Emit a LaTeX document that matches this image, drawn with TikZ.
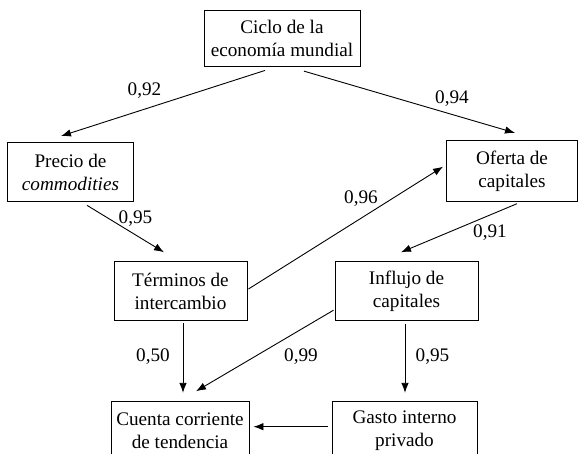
\documentclass[tikz,border=0pt]{standalone}
\usepackage{fontspec}
\setmainfont{Liberation Serif}
\usetikzlibrary{arrows.meta}

\begin{document}
\begin{tikzpicture}[x=1pt,y=1pt,line width=0.9pt,
  font=\fontsize{19.2}{23}\selectfont,
  caja/.style={rectangle,draw,align=center,inner sep=0pt,minimum height=59pt},
  flecha/.style={-{Latex[length=10pt,width=7.5pt]}},
  peso/.style={inner sep=0pt}]
\useasboundingbox (0,0) rectangle (579,454);
% cajas
\node [caja,minimum width=156pt,minimum height=56pt] (ciclo) at (282,416) {Ciclo de la\\economía mundial};
\node [caja,minimum width=126pt] (precio) at (70.5,282) {Precio de\\\textit{commodities}};
\node [caja,minimum width=131pt,minimum height=60.5pt] (oferta) at (512,283) {Oferta de\\capitales};
\node [caja,minimum width=133pt] (terminos) at (180.5,162.8) {Términos de\\intercambio};
\node [caja,minimum width=143pt] (influjo) at (406.5,162.8) {Influjo de\\capitales};
\node [caja,minimum width=138pt] (cuenta) at (180,23.5) {Cuenta corriente\\de tendencia};
\node [caja,minimum width=145pt] (gasto) at (404.5,23.5) {Gasto interno\\privado};
% flechas
\draw [flecha] ([xshift=-17pt,yshift=-4pt]ciclo.south) -- ([xshift=-9.5pt,yshift=6pt]precio.north);
\draw [flecha] ([xshift=22pt,yshift=-4.7pt]ciclo.south) -- ([xshift=3pt,yshift=7.4pt]oferta.north);
\draw [flecha] ([xshift=16.5pt,yshift=-3.4pt]precio.south) -- ([xshift=-16.5pt,yshift=9pt]terminos.north);
\draw [flecha] ([xshift=1pt,yshift=2.2pt]terminos.east) -- ([xshift=-3pt,yshift=4.3pt]oferta.west);
\draw [flecha] ([xshift=5pt,yshift=-2pt]oferta.south) -- ([xshift=-5.5pt,yshift=9pt]influjo.north);
\draw [flecha] ([xshift=2.5pt,yshift=-2pt]terminos.south) -- ([xshift=3pt,yshift=7.7pt]cuenta.north);
\draw [flecha] ([xshift=-1pt,yshift=-19pt]influjo.west) -- ([xshift=16pt,yshift=9.3pt]cuenta.north);
\draw [flecha] ([xshift=-1.5pt,yshift=-3.3pt]influjo.south) -- ([xshift=0.5pt,yshift=7.7pt]gasto.north);
\draw [flecha] ([xshift=-4pt,yshift=3.8pt]gasto.west) -- ([xshift=4pt,yshift=3.8pt]cuenta.east);
% pesos
\node [peso] (p1) at (144.5,363.3) {0,92};
\node [peso] (p2) at (452,355.7) {0,94};
\node [peso] (p3) at (135.5,235) {0,95};
\node [peso] (p4) at (361,255.7) {0,96};
\node [peso] (p5) at (490,221.3) {0,91};
\node [peso] (p6) at (153,97.3) {0,50};
\node [peso] (p7) at (301,97.3) {0,99};
\node [peso] (p8) at (432.5,97.3) {0,95};
\end{tikzpicture}
\end{document}
